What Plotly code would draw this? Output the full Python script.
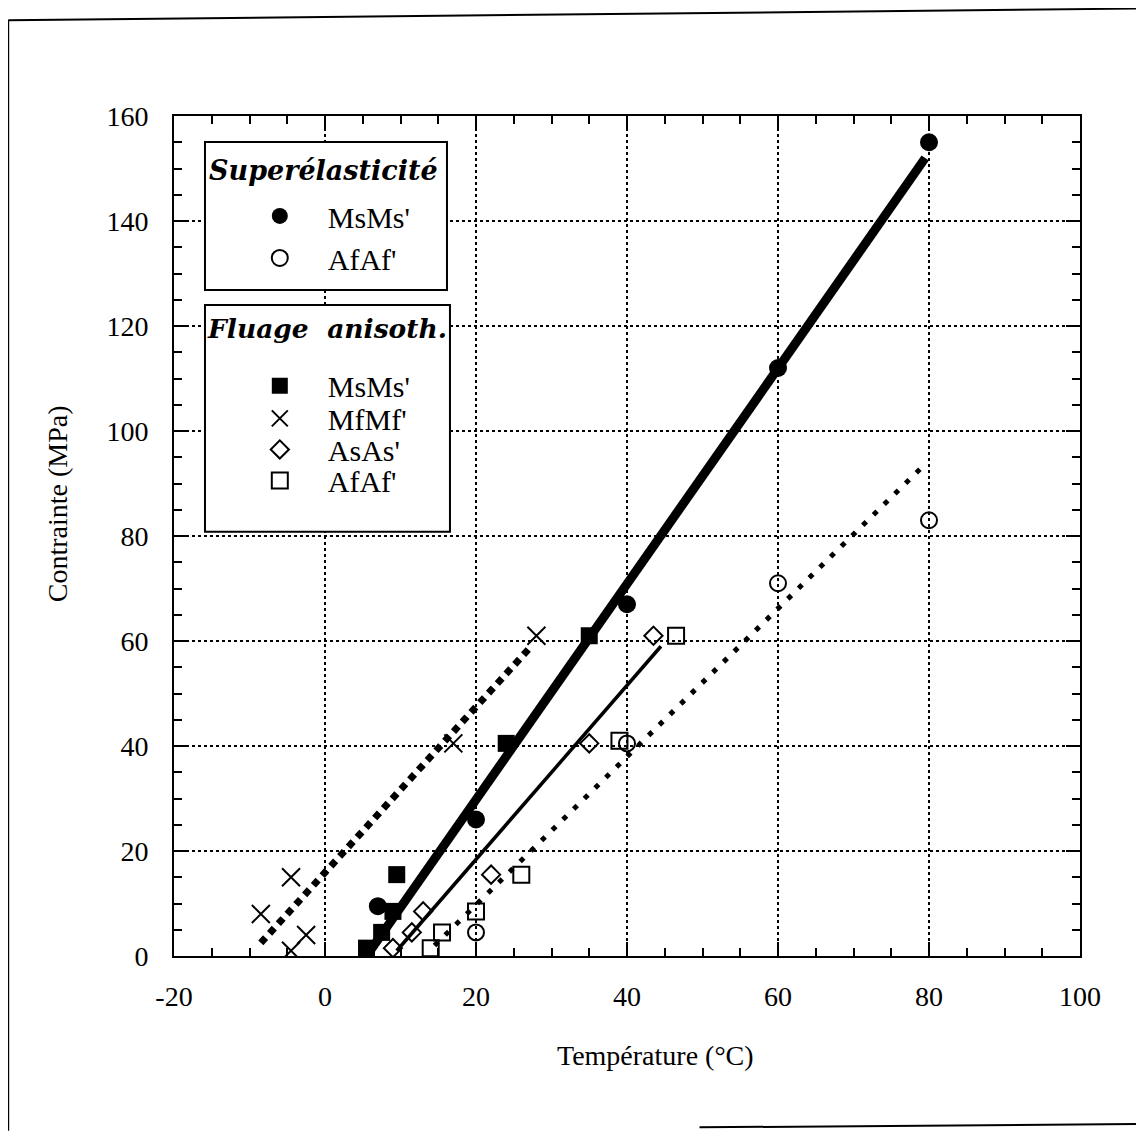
import plotly.graph_objects as go

# Superélasticité
se_ms_t = [7, 20, 40, 60, 80]
se_ms_s = [9.5, 26, 67, 112, 155]
se_af_t = [20, 40, 60, 80]
se_af_s = [4.5, 40.5, 71, 83]

# Fluage anisotherme
fl_ms_t = [5.5, 7.5, 9, 9.5, 24, 35]
fl_ms_s = [1.5, 4.5, 8.5, 15.5, 40.5, 61]
fl_mf_t = [-8.5, -4.5, -2.5, -4.5, 17, 28]
fl_mf_s = [8, 15, 4, 1, 40.5, 61]
fl_as_t = [9, 11.5, 13, 22, 35, 43.5]
fl_as_s = [1.5, 4.5, 8.5, 15.5, 40.5, 61]
fl_af_t = [14, 15.5, 20, 26, 39, 46.5]
fl_af_s = [1.5, 4.5, 8.5, 15.5, 41, 61]

# droites (extremites)
fit_ms_t, fit_ms_s = [5.5, 79.5], [0, 152]
fit_mf_t, fit_mf_s = [-8.5, 27], [2.5, 58.5]
fit_as_t, fit_as_s = [9.5, 44.5], [1, 59]
fit_af_t, fit_af_s = [14.5, 79], [2, 93]

x_ticks = [-20, 0, 20, 40, 60, 80, 100]
x_ticktext = ["-20", "0", "20", "40", "60", "80", "100"]

SERIF = "Liberation Serif"
TITLE_FONT = dict(family="DejaVu Serif", size=27, color="black")
LABEL_FONT = dict(family=SERIF, size=28, color="black")

fig = go.Figure()

# lines
fig.add_trace(go.Scatter(x=fit_ms_t, y=fit_ms_s, mode="lines", showlegend=False,
                         line=dict(color="black", width=9)))
fig.add_trace(go.Scatter(x=fit_mf_t, y=fit_mf_s, mode="lines", showlegend=False,
                         line=dict(color="black", width=7, dash="7px,6px")))
fig.add_trace(go.Scatter(x=fit_as_t, y=fit_as_s, mode="lines", showlegend=False,
                         line=dict(color="black", width=3.5)))
fig.add_trace(go.Scatter(x=fit_af_t, y=fit_af_s, mode="lines", showlegend=False,
                         line=dict(color="black", width=5, dash="5px,10px")))

def pts(x, y, name, symbol, size, legend, lw=2):
    return go.Scatter(x=x, y=y, mode="markers", name=name, legend=legend,
                      marker=dict(symbol=symbol, size=size, color="black",
                                  line=dict(color="black", width=lw)))

fig.add_trace(pts(se_ms_t, se_ms_s, "MsMs'", "circle", 18, "legend", 0))
fig.add_trace(pts(se_af_t, se_af_s, "AfAf'", "circle-open", 16, "legend2"))
fig.add_trace(pts(fl_ms_t, fl_ms_s, "MsMs'", "square", 17, "legend3", 0))
fig.add_trace(pts(fl_mf_t, fl_mf_s, "MfMf'", "x-thin-open", 18, "legend4"))
fig.add_trace(pts(fl_as_t, fl_as_s, "AsAs'", "diamond-open", 14, "legend5"))
fig.add_trace(pts(fl_af_t, fl_af_s, "AfAf'", "square-open", 16, "legend6"))

axis_common = dict(
    showline=True, linecolor="black", linewidth=2, mirror="allticks",
    ticks="inside", ticklen=14, tickwidth=2, tickcolor="black",
    showgrid=True, gridcolor="black", griddash="dot", gridwidth=1.5,
    zeroline=False,
    tickfont=dict(family=SERIF, size=28, color="black"),
    minor=dict(dtick=5, ticks="inside", ticklen=8, tickwidth=2, tickcolor="black", showgrid=False),
)
fig.update_xaxes(range=[-20, 100], tickvals=x_ticks, ticktext=x_ticktext, ticklabelstandoff=14,
                 **axis_common)
fig.update_yaxes(range=[0, 160], dtick=20, tick0=0, ticklabelstandoff=18, **axis_common)

# one small legend per entry so each row sits where it does in the original
item_rows = [0.881, 0.831, 0.679, 0.640, 0.603, 0.566]
legends = {}
for i, yy in enumerate(item_rows):
    key = "legend" if i == 0 else f"legend{i + 1}"
    legends[key] = dict(x=0.034, y=yy, xanchor="left", yanchor="middle",
                        bgcolor="rgba(0,0,0,0)", borderwidth=0,
                        font=dict(family=SERIF, size=30, color="black"),
                        indentation=27, itemwidth=86)

fig.update_layout(
    width=1144, height=1131,
    paper_bgcolor="white", plot_bgcolor="white",
    margin=dict(l=166, r=72, t=108, b=183),
    **legends,
)

# legend boxes
for y0, y1, x1 in [(0.793, 0.969, 0.3013), (0.505, 0.775, 0.3046)]:
    fig.add_shape(type="rect", xref="paper", yref="paper", x0=0.0342, x1=x1, y0=y0, y1=y1,
                  line=dict(color="black", width=2), fillcolor="white", layer="above")

fig.add_annotation(text="<b><i>Superélasticité</i></b>", xref="paper", yref="paper",
                   x=0.0364, y=0.9357, xanchor="left", yanchor="middle", showarrow=False,
                   font=TITLE_FONT)
fig.add_annotation(text="<b><i>Fluage  anisoth.</i></b>", xref="paper", yref="paper",
                   x=0.0345, y=0.7476, xanchor="left", yanchor="middle", showarrow=False,
                   font=dict(family="DejaVu Serif", size=26.5, color="black"))

# axis titles
fig.add_annotation(text="Température (°C)", xref="paper", yref="paper", x=0.531, y=-0.118,
                   xanchor="center", yanchor="middle", showarrow=False, font=LABEL_FONT)
fig.add_annotation(text="Contrainte (MPa)", xref="paper", yref="paper", x=-0.129, y=0.538,
                   xanchor="center", yanchor="middle", textangle=-90, showarrow=False,
                   font=LABEL_FONT)

# scanned page frame
for x0, y0, x1, y1 in [(-0.183, 1.114, -0.183, -0.208), (-0.183, 1.114, 1.072, 1.128),
                       (0.58, -0.204, 1.072, -0.2), (1.071, 1.0, 1.071, 0.5)]:
    fig.add_shape(type="line", xref="paper", yref="paper", x0=x0, y0=y0, x1=x1, y1=y1,
                  line=dict(color="black", width=2))

fig.write_html("out.html")
